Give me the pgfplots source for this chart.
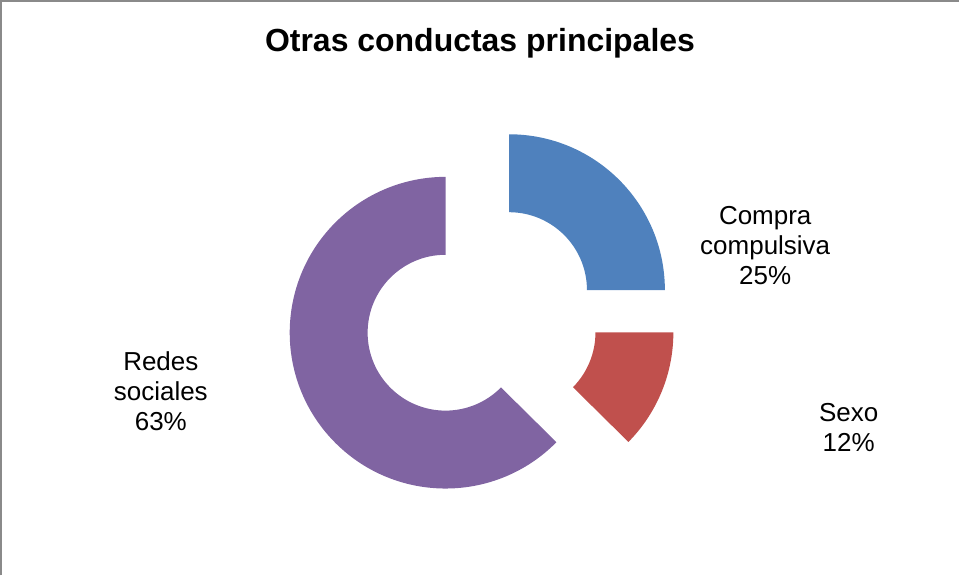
\documentclass[border=0pt]{standalone}
\usepackage{pgfplots}
\pgfplotsset{compat=1.18}
\usepackage{pgfplotstable}
\usepackage{fontspec}
\setmainfont{Liberation Sans}
\definecolor{cblue}{HTML}{4F81BD}
\definecolor{cred}{HTML}{C0504D}
\definecolor{cpurple}{HTML}{8064A2}
\definecolor{cborder}{HTML}{8A8A8A}
\pgfplotstableread{
value
25
12.4
62.6
}\data
% slice: start angle, end angle, colour (centre 482,258; r=156, inner 78, explode 39; 1 unit = 0.5bp)
\newcommand\slice[3]{%
  \pgfmathsetmacro\mid{(#1+#2)/2}%
  \pgfmathsetmacro\ox{482+39*cos(\mid)}%
  \pgfmathsetmacro\oy{258+39*sin(\mid)}%
  \pgfmathsetmacro\px{\ox+156*cos(#1)}%
  \pgfmathsetmacro\py{\oy+156*sin(#1)}%
  \pgfmathsetmacro\qx{\ox+78*cos(#2)}%
  \pgfmathsetmacro\qy{\oy+78*sin(#2)}%
  \edef\tmp{\noexpand\fill[#3] (axis cs:\px,\py) arc[start angle=#1,end angle=#2,radius=78bp] -- (axis cs:\qx,\qy) arc[start angle=#2,end angle=#1,radius=39bp] -- cycle;}%
  \tmp}
\begin{document}
\begin{tikzpicture}
\pgfplotstablegetelem{0}{value}\of\data \let\va\pgfplotsretval
\pgfplotstablegetelem{1}{value}\of\data \let\vb\pgfplotsretval
\pgfplotstablegetelem{2}{value}\of\data \let\vc\pgfplotsretval
\pgfmathsetmacro\tot{\va+\vb+\vc}
\pgfmathsetmacro\aA{90}
\pgfmathsetmacro\aB{90-(360/\tot)*\va}
\pgfmathsetmacro\aC{\aB-(360/\tot)*\vb}
\pgfmathsetmacro\aD{\aC-(360/\tot)*\vc}
\begin{axis}[
  width=480bp, height=288bp, scale only axis,
  xmin=0, xmax=960, ymin=0, ymax=576,
  hide axis, clip=false,
]
\slice{\aA}{\aB}{cblue}
\slice{\aB}{\aC}{cred}
\slice{\aC}{\aD}{cpurple}
% border (top and left visible)
\draw[cborder, line width=1bp] (axis cs:1,0) -- (axis cs:1,575) -- (axis cs:960,575);
% title
\node[anchor=base, inner sep=0pt, font=\fontsize{16bp}{19bp}\selectfont\bfseries] at (axis cs:480.5,524) {Otras conductas principales};
% labels
\begin{scope}[every node/.style={anchor=base, inner sep=0pt, font=\fontsize{13bp}{15bp}\selectfont}]
\node at (axis cs:766,351) {Compra};
\node at (axis cs:766,321) {compulsiva};
\node at (axis cs:766,291) {25\%};
\node at (axis cs:849.5,154) {Sexo};
\node at (axis cs:849.5,124) {12\%};
\node at (axis cs:161,205) {Redes};
\node at (axis cs:161,175) {sociales};
\node at (axis cs:161,145) {63\%};
\end{scope}
\end{axis}
\end{tikzpicture}
\end{document}
